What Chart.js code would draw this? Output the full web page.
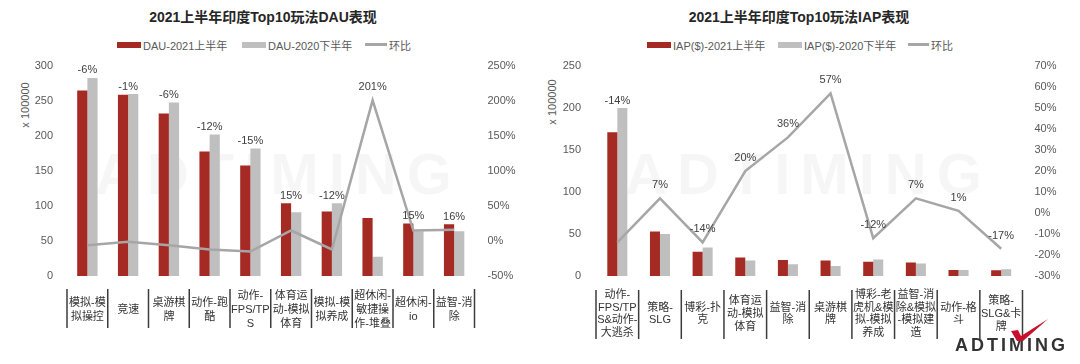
<!DOCTYPE html>
<html>
<head>
<meta charset="utf-8">
<script src="https://cdn.jsdelivr.net/npm/chart.js@4/dist/chart.umd.min.js"></script>
<style>
  html, body { margin: 0; padding: 0; background: #fff; }
  body { width: 1080px; height: 364px; position: relative; overflow: hidden;
         font-family: "Liberation Sans", "Noto Sans CJK SC", sans-serif; }
  .panel { position: absolute; top: 0; width: 540px; height: 364px; }
  .title { position: absolute; top: 6px; font-size: 14px; font-weight: bold; color: #262626;
           transform: translateX(-50%); white-space: nowrap; }
  .leg { position: absolute; top: 38px; display: flex; align-items: center; font-size: 11px;
         color: #595959; white-space: nowrap; height: 13px; }
  .leg i { display: inline-block; margin-right: 2px; }
  .ytitle { position: absolute; font-size: 11px; color: #595959; white-space: nowrap;
            transform: translate(-50%, -50%) rotate(-90deg); }
  .wm { position: absolute; font-size: 58px; font-weight: bold; letter-spacing: 10px;
        color: rgba(0,0,0,0.035); white-space: nowrap; }
</style>
</head>
<body>

<div class="wm" style="left:95px; top:140px;">ADTIMING</div>
<div class="wm" style="left:625px; top:140px;">ADTIMING</div>

<div class="title" style="left:263px;">2021上半年印度Top10玩法DAU表现</div>
<div class="title" style="left:799px;">2021上半年印度Top10玩法IAP表现</div>

<div class="leg" style="left:117px;"><i style="width:24px;height:6px;background:#A52A24"></i>DAU-2021上半年</div>
<div class="leg" style="left:242px;"><i style="width:24px;height:6px;background:#BFBFBF"></i>DAU-2020下半年</div>
<div class="leg" style="left:365px;"><i style="width:22px;height:3px;background:#A6A6A6"></i>环比</div>

<div class="leg" style="left:647px;"><i style="width:24px;height:6px;background:#A52A24"></i>IAP($)-2021上半年</div>
<div class="leg" style="left:778px;"><i style="width:24px;height:6px;background:#BFBFBF"></i>IAP($)-2020下半年</div>
<div class="leg" style="left:908px;"><i style="width:21px;height:3px;background:#A6A6A6"></i>环比</div>

<div class="ytitle" style="left:25px; top:105px;">x 100000</div>
<div class="ytitle" style="left:552px; top:102px;">x 100000</div>

<div class="panel" style="left:0;"><canvas id="dau"></canvas></div>
<div class="panel" style="left:540px;"><canvas id="iap"></canvas></div>

<!-- ADTIMING logo, bottom right -->
<div style="position:absolute; left:955px; top:335px; font-size:18px; font-weight:bold; color:#333; letter-spacing:3px;">ADTIMING</div>
<svg style="position:absolute; left:1003px; top:316px;" width="50" height="30">
  <path d="M8 15 L15 14 L18 20 L45 3 L20 25 L14 25 Z" fill="#C8102E"/>
</svg>

<script>
const dauCategories = [
  ['模拟-模', '拟操控'], ['竞速'], ['桌游棋', '牌'], ['动作-跑', '酷'],
  ['动作-', 'FPS/TP', 'S'], ['体育运', '动-模拟', '体育'], ['模拟-模', '拟养成'],
  ['超休闲-', '敏捷操', '作-堆叠'], ['超休闲-', 'io'], ['益智-消', '除'],
];
const dau2021H1 = [265, 259, 232, 178, 158, 104, 92, 83, 75, 74];
const dau2020H2 = [283, 260, 248, 202, 182, 91, 104, 27.5, 64, 64];
const dauQoq = [-6, -1, -6, -12, -15, 15, -12, 201, 15, 16];

const iapCategories = [
  ['动作-', 'FPS/TP', 'S&动作-', '大逃杀'], ['策略-', 'SLG'], ['博彩-扑', '克'],
  ['体育运', '动-模拟', '体育'], ['益智-消', '除'], ['桌游棋', '牌'],
  ['博彩-老', '虎机&模', '拟-模拟', '养成'], ['益智-消', '除&模拟', '-模拟建', '造'],
  ['动作-格', '斗'], ['策略-', 'SLG&卡', '牌'],
];
const iap2021H1 = [171, 53, 29, 22, 19, 18.5, 17, 16, 7, 6.8];
const iap2020H2 = [200, 50, 34, 18.5, 14, 11.8, 19.5, 15, 7, 8];
const iapQoq = [-14, 7, -14, 20, 36, 57, -12, 7, 1, -17];

const colors = {
  red: '#A52A24',
  gray: '#BFBFBF',
  line: '#A6A6A6',
  tick: '#595959',
  label: '#404040',
  sep: '#3c3c3c',
};
const FONT = '"Liberation Sans", "Noto Sans CJK SC", sans-serif';
Chart.defaults.font.family = FONT;

// vertical separators between x categories, below the plot
const separators = {
  id: 'separators',
  afterDraw(chart, args, opts) {
    const x = chart.scales.x;
    const ctx = chart.ctx;
    ctx.save();
    ctx.strokeStyle = colors.sep;
    ctx.lineWidth = 1.5;
    for (let i = 0; i <= chart.data.labels.length; i++) {
      const px = x.getPixelForValue(i - 0.5);
      ctx.beginPath();
      ctx.moveTo(px, x.top + opts.from);
      ctx.lineTo(px, x.top + opts.to);
      ctx.stroke();
    }
    ctx.restore();
  },
};

// % labels above the highest mark of each category
const qoqLabels = {
  id: 'qoqLabels',
  afterDatasetsDraw(chart) {
    const ctx = chart.ctx;
    const lineIdx = 2;
    const values = chart.data.datasets[lineIdx].data;
    ctx.save();
    ctx.font = '11px ' + FONT;
    ctx.fillStyle = colors.label;
    ctx.textAlign = 'center';
    ctx.textBaseline = 'middle';
    values.forEach((v, i) => {
      const barTop = Math.min(chart.getDatasetMeta(0).data[i].y, chart.getDatasetMeta(1).data[i].y);
      const pt = chart.getDatasetMeta(lineIdx).data[i];
      const y = pt.y < barTop ? pt.y - 13 : barTop - 7.5;
      ctx.fillText(v + '%', pt.x, y);
    });
    ctx.restore();
  },
};

function makeChart(id, cfg) {
  return new Chart(document.getElementById(id), {
    type: 'bar',
    data: {
      labels: cfg.labels,
      datasets: [
        { label: cfg.names[0], data: cfg.cur, backgroundColor: colors.red, order: 1,
          categoryPercentage: cfg.catPct, barPercentage: 1 },
        { label: cfg.names[1], data: cfg.prev, backgroundColor: colors.gray, order: 1,
          categoryPercentage: cfg.catPct, barPercentage: 1 },
        { type: 'line', label: '环比', data: cfg.qoq, yAxisID: 'y1', order: 0,
          borderColor: colors.line, borderWidth: 2.5, pointRadius: 0, tension: 0, fill: false },
      ],
    },
    options: {
      responsive: true,
      maintainAspectRatio: false,
      animation: false,
      layout: { padding: { top: 66, left: 0, right: 0, bottom: 0 } },
      plugins: {
        legend: { display: false },
        tooltip: { enabled: false },
        separators: cfg.sep,
      },
      scales: {
        x: {
          grid: { display: false },
          border: { display: false },
          afterFit: s => { s.height = 88; },
          ticks: {
            color: '#333',
            font: { size: 11, lineHeight: cfg.lineH },
            padding: cfg.xPad,
            crossAlign: 'center',
            maxRotation: 0,
            minRotation: 0,
            autoSkip: false,
          },
        },
        y: {
          position: 'left',
          min: 0, max: cfg.yMax,
          grid: { display: false, drawTicks: false },
          border: { display: false },
          afterFit: s => { s.width = cfg.yW; },
          ticks: { stepSize: cfg.yStep, color: colors.tick, font: { size: 11 }, padding: cfg.yPad },
        },
        y1: {
          position: 'right',
          min: cfg.rMin, max: cfg.rMax,
          grid: { display: false, drawTicks: false },
          border: { display: false },
          afterFit: s => { s.width = cfg.rW; },
          ticks: { stepSize: cfg.rStep, color: colors.tick, font: { size: 11 }, padding: cfg.rPad,
                   callback: v => v + '%' },
        },
      },
    },
    plugins: [separators, qoqLabels],
  });
}

makeChart('dau', {
  labels: dauCategories,
  names: ['DAU-2021上半年', 'DAU-2020下半年'],
  cur: dau2021H1, prev: dau2020H2, qoq: dauQoq,
  catPct: 0.5, lineH: 1.25, xPad: 12,
  yMax: 300, yStep: 50, yW: 67, yPad: 14,
  rMin: -50, rMax: 250, rStep: 50, rW: 65.5, rPad: 13,
  sep: { from: 13, to: 52 },
});

makeChart('iap', {
  labels: iapCategories,
  names: ['IAP($)-2021上半年', 'IAP($)-2020下半年'],
  cur: iap2021H1, prev: iap2020H2, qoq: iapQoq,
  catPct: 0.47, lineH: 1.15, xPad: 11,
  yMax: 250, yStep: 50, yW: 56, yPad: 15,
  rMin: -30, rMax: 70, rStep: 10, rW: 57.5, rPad: 12,
  sep: { from: 14, to: 63 },
});
</script>
</body>
</html>
